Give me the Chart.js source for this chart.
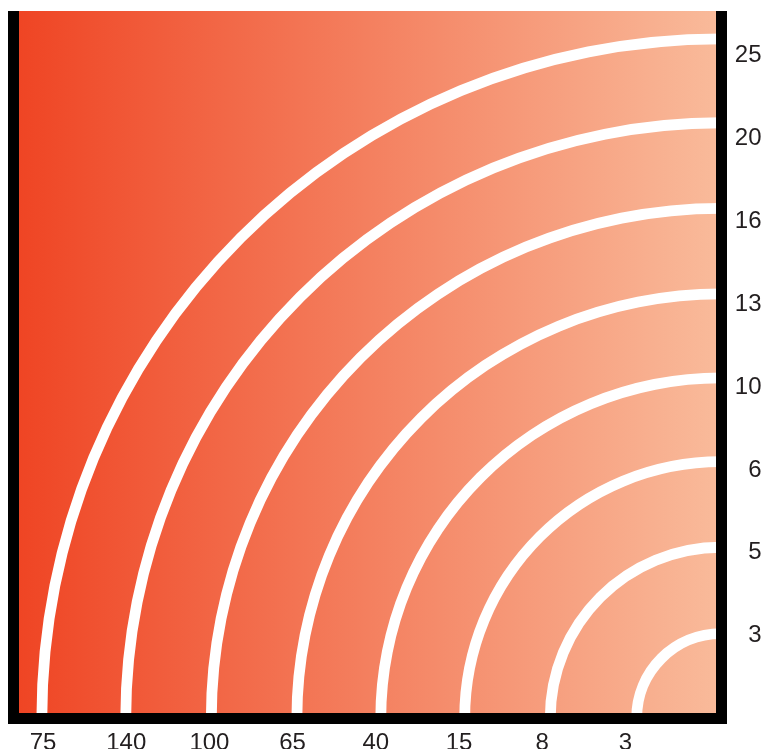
<!DOCTYPE html>
<html>
<head>
<meta charset="utf-8">
<script src="https://cdn.jsdelivr.net/npm/chart.js@4.4.1/dist/chart.umd.min.js"></script>
<style>
  html, body { margin: 0; padding: 0; background: #fff; overflow: hidden; }
  #wrap { position: absolute; left: 0; top: 11px; width: 764px; height: 738px; overflow: hidden; }
  #chart { position: absolute; left: 0; top: -6px; }
</style>
</head>
<body>
<div id="wrap"><canvas id="chart" width="764" height="744"></canvas></div>
<script>
  // tick labels
  const bottomLabels = ['75', '140', '100', '65', '40', '15', '8', '3'];
  const rightLabels = ['25', '20', '16', '13', '10', '6', '5', '3'];
  // where each white arc meets the bottom axis (bottom axis units)
  const arcX = [-0.02, 0.99, 2.02, 3.05, 4.06, 5.07, 6.10, 7.14];

  const X_MIN = -0.355, X_MAX = 8.155;
  const Y_MIN = -0.53, Y_MAX = 7.99;
  const LINE_W = 0.13;
  const FONT = { family: '"Liberation Sans", Arial, sans-serif', size: 24 };

  // rings of the quarter doughnut, outermost first: clear gap, then white arc
  const R_TOTAL = X_MAX - X_MIN;
  const half = LINE_W / 2;
  const rings = [];
  let edge = R_TOTAL;
  arcX.forEach(x => {
    const r = X_MAX - x;
    rings.push({ data: [1], weight: edge - (r + half), backgroundColor: 'rgba(0,0,0,0)' });
    rings.push({ data: [1], weight: 2 * half, backgroundColor: '#ffffff' });
    edge = r - half;
  });
  const cutoutPct = 100 * edge / R_TOTAL;

  const bgGradient = {
    id: 'bgGradient',
    beforeDatasetsDraw(chart) {
      const { ctx, chartArea: a } = chart;
      const g = ctx.createLinearGradient(a.left, 0, a.right, 0);
      g.addColorStop(0, '#EF4423');
      g.addColorStop(1, '#F9BB9B');
      ctx.save();
      ctx.fillStyle = g;
      ctx.fillRect(a.left, a.top, a.right - a.left, a.bottom - a.top);
      ctx.restore();
    }
  };

  const axisLine = { color: '#000', width: 11, z: 1 };
  const noGrid = { display: false, drawTicks: false, lineWidth: 11 };
  const noPad = s => { s.paddingTop = 0; s.paddingBottom = 0; s.paddingLeft = 0; s.paddingRight = 0; };

  new Chart(document.getElementById('chart'), {
    type: 'doughnut',
    data: { labels: [''], datasets: rings },
    options: {
      responsive: false,
      animation: false,
      events: [],
      rotation: 270,
      circumference: 90,
      cutout: cutoutPct + '%',
      elements: { arc: { borderWidth: 0, hoverOffset: 0, offset: 0 } },
      layout: { padding: { left: 13.5, top: 6, right: 2.5, bottom: 0 } },
      plugins: { legend: { display: false }, tooltip: { enabled: false } },
      scales: {
        x: {
          type: 'linear', position: 'bottom', bounds: 'data',
          min: X_MIN, max: X_MAX,
          afterBuildTicks: s => { s.ticks = bottomLabels.map((_, i) => ({ value: i })); },
          afterFit: s => { s.height = 31; noPad(s); },
          grid: noGrid,
          border: axisLine,
          ticks: {
            padding: 11, autoSkip: false, maxRotation: 0, color: '#231F20', font: FONT,
            callback: (v, i) => bottomLabels[i]
          }
        },
        y: {
          type: 'linear', position: 'right', bounds: 'data', reverse: true,
          min: Y_MIN, max: Y_MAX,
          afterBuildTicks: s => { s.ticks = rightLabels.map((_, i) => ({ value: i })); },
          afterFit: s => { s.width = 40; noPad(s); },
          grid: noGrid,
          border: axisLine,
          ticks: {
            padding: 0, crossAlign: 'far', autoSkip: false, color: '#231F20', font: FONT,
            callback: (v, i) => rightLabels[i]
          }
        },
        yl: {
          type: 'linear', position: 'left', min: 0, max: 1,
          afterFit: s => { s.width = 0; noPad(s); },
          grid: noGrid,
          border: axisLine,
          ticks: { display: false }
        }
      }
    },
    plugins: [bgGradient]
  });
</script>
</body>
</html>
